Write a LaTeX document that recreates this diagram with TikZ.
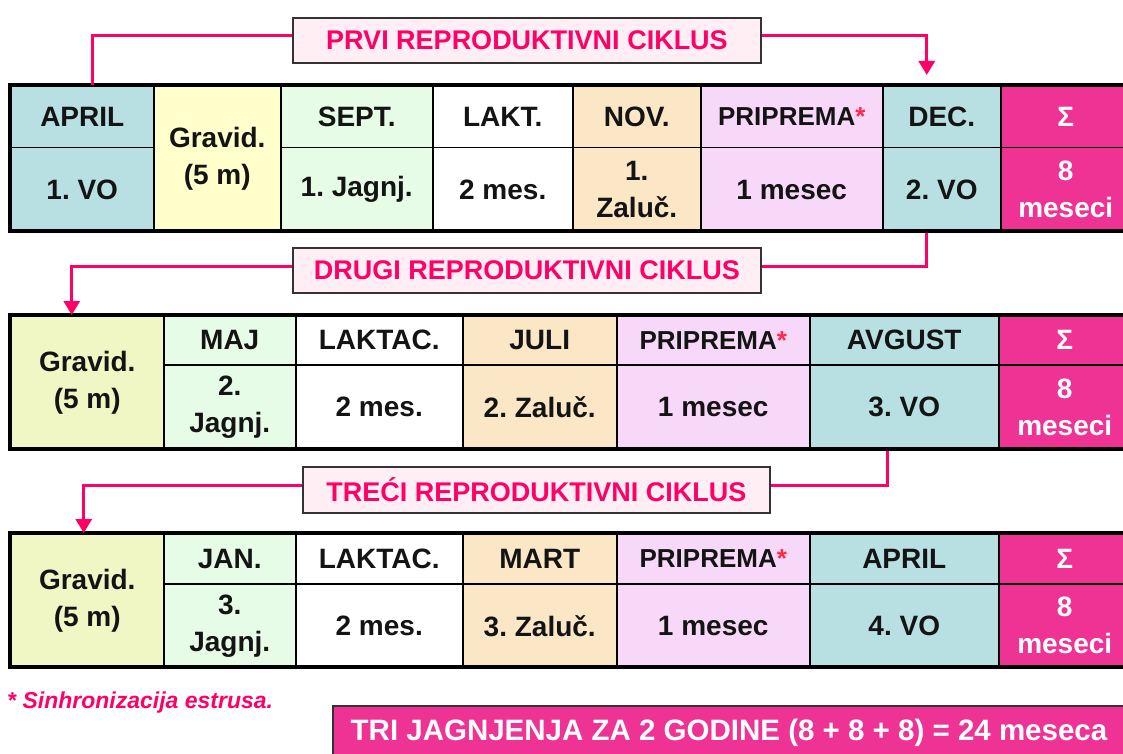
\documentclass[tikz,border=0pt]{standalone}
\usepackage{fontspec}
\setmainfont{Liberation Sans}
\usetikzlibrary{arrows.meta}
\definecolor{cblue}{HTML}{B8DFE2}
\definecolor{cyel}{HTML}{FFFFCC}
\definecolor{cyelb}{HTML}{F0F6C4}
\definecolor{cgreen}{HTML}{E6FCE6}
\definecolor{cpeach}{HTML}{FBE6C6}
\definecolor{cpink}{HTML}{F8D8F8}
\definecolor{cmag}{HTML}{EE3394}
\definecolor{cline}{HTML}{FF0066}
\definecolor{cboxfill}{HTML}{FFEEF3}
\definecolor{ctxt}{HTML}{141414}
\definecolor{cstar}{HTML}{FF2A4A}
\newcommand\mycell[7]{%
  \pgfmathsetmacro\mycw{#4-#2}\pgfmathsetmacro\mych{#5-#3}%
  \node[cell, #6, minimum width=\mycw pt, minimum height=\mych pt, anchor=north west] (#1) at (#2,#3) {#7};}
\newcommand\prip{{\fontsize{26}{30}\selectfont PRIPREMA\textcolor{cstar}{*}}}
\tikzset{
  cell/.style={draw=black, line width=1.5pt, inner sep=0pt, align=center, text=ctxt,
    font=\fontsize{28}{37}\selectfont\bfseries\frenchspacing},
  sumcell/.style={fill=cmag, text=white},
  frame/.style={draw=black, line width=4pt},
  label/.style={draw=black!80, line width=2pt, fill=cboxfill, text=cline, inner sep=0pt,
    font=\fontsize{27}{30}\selectfont\bfseries, anchor=north west},
  conn/.style={draw=cline, line width=3pt},
  arr/.style={-{Triangle[width=16pt,length=14pt]}}
}
\begin{document}
\begin{tikzpicture}[x=1pt,y=-1pt]
\useasboundingbox (0,0) rectangle (1123,754);
% ---------- table 1 ----------
\mycell{t1a}{10}{85}{153}{147}{fill=cblue}{APRIL}
\mycell{t1ab}{10}{147}{153}{231}{fill=cblue}{1. VO}
\mycell{t1b}{153}{85}{280}{231}{fill=cyel}{Gravid.\\(5 m)}
\mycell{t1c}{280}{85}{432}{147}{fill=cgreen}{SEPT.}
\mycell{t1cb}{280}{147}{432}{231}{fill=cgreen}{1. Jagnj.}
\mycell{t1d}{432}{85}{572}{147}{fill=white}{LAKT.}
\mycell{t1db}{432}{147}{572}{231}{fill=white}{2 mes.}
\mycell{t1e}{572}{85}{700}{147}{fill=cpeach}{NOV.}
\mycell{t1eb}{572}{147}{700}{231}{fill=cpeach}{1.\\Zaluč.}
\mycell{t1f}{700}{85}{882}{147}{fill=cpink}{\prip}
\mycell{t1fb}{700}{147}{882}{231}{fill=cpink}{1 mesec}
\mycell{t1g}{882}{85}{1000}{147}{fill=cblue}{DEC.}
\mycell{t1gb}{882}{147}{1000}{231}{fill=cblue}{2. VO}
\mycell{t1h}{1000}{85}{1130}{147}{sumcell}{Σ}
\mycell{t1hb}{1000}{147}{1130}{231}{sumcell}{8\\meseci}
\draw[frame] (10,85) rectangle (1130,231);
% ---------- table 2 ----------
\mycell{t2a}{10}{315}{163}{449}{fill=cyelb}{Gravid.\\(5 m)}
\mycell{t2b}{163}{315}{295}{364}{fill=cgreen}{MAJ}
\mycell{t2bb}{163}{364}{295}{449}{fill=cgreen}{2.\\Jagnj.}
\mycell{t2c}{295}{315}{462}{364}{fill=white}{LAKTAC.}
\mycell{t2cb}{295}{364}{462}{449}{fill=white}{2 mes.}
\mycell{t2d}{462}{315}{616}{364}{fill=cpeach}{JULI}
\mycell{t2db}{462}{364}{616}{449}{fill=cpeach}{2. Zaluč.}
\mycell{t2e}{616}{315}{809}{364}{fill=cpink}{\prip}
\mycell{t2eb}{616}{364}{809}{449}{fill=cpink}{1 mesec}
\mycell{t2f}{809}{315}{998}{364}{fill=cblue}{AVGUST}
\mycell{t2fb}{809}{364}{998}{449}{fill=cblue}{3. VO}
\mycell{t2g}{998}{315}{1130}{364}{sumcell}{Σ}
\mycell{t2gb}{998}{364}{1130}{449}{sumcell}{8\\meseci}
\draw[frame] (10,315) rectangle (1130,449);
% ---------- table 3 ----------
\mycell{t3a}{10}{533}{163}{667}{fill=cyelb}{Gravid.\\(5 m)}
\mycell{t3b}{163}{533}{295}{583}{fill=cgreen}{JAN.}
\mycell{t3bb}{163}{583}{295}{667}{fill=cgreen}{3.\\Jagnj.}
\mycell{t3c}{295}{533}{462}{583}{fill=white}{LAKTAC.}
\mycell{t3cb}{295}{583}{462}{667}{fill=white}{2 mes.}
\mycell{t3d}{462}{533}{616}{583}{fill=cpeach}{MART}
\mycell{t3db}{462}{583}{616}{667}{fill=cpeach}{3. Zaluč.}
\mycell{t3e}{616}{533}{809}{583}{fill=cpink}{\prip}
\mycell{t3eb}{616}{583}{809}{667}{fill=cpink}{1 mesec}
\mycell{t3f}{809}{533}{998}{583}{fill=cblue}{APRIL}
\mycell{t3fb}{809}{583}{998}{667}{fill=cblue}{4. VO}
\mycell{t3g}{998}{533}{1130}{583}{sumcell}{Σ}
\mycell{t3gb}{998}{583}{1130}{667}{sumcell}{8\\meseci}
\draw[frame] (10,533) rectangle (1130,667);
% ---------- cycle labels ----------
\node[label, minimum width=468pt, minimum height=45pt] (p1) at (292,17) {PRVI REPRODUKTIVNI CIKLUS};
\node[label, minimum width=468pt, minimum height=45pt] (p2) at (292,247) {DRUGI REPRODUKTIVNI CIKLUS};
\node[label, minimum width=467pt, minimum height=46pt] (p3) at (302,466) {TREĆI REPRODUKTIVNI CIKLUS};
% ---------- connectors ----------
\draw[conn] ([yshift=4.5pt]p1.west) -| ([xshift=10.5pt]t1a.north);
\draw[conn,arr] ([yshift=4.5pt]p1.east) -| ([xshift=-15pt,yshift=10pt]t1g.north);
\draw[conn] ([xshift=-15pt]t1gb.south) |- ([yshift=4.5pt]p2.east);
\draw[conn,arr] ([yshift=4.5pt]p2.west) -| ([xshift=-15.5pt]t2a.north);
\draw[conn] ([xshift=-16.5pt]t2fb.south) |- ([yshift=5pt]p3.east);
\draw[conn,arr] ([yshift=5pt]p3.west) -| ([xshift=-3.5pt]t3a.north);
% ---------- footnote and total ----------
\node[anchor=west, text=cline, inner sep=0pt, font=\fontsize{23}{26}\selectfont\bfseries\itshape] (fn) at (7,703) {* Sinhronizacija estrusa.};
\node[draw=black!80, line width=2pt, fill=cmag, text=white, anchor=north west, inner sep=0pt,
  minimum width=800pt, minimum height=54pt, font=\fontsize{29.5}{32}\selectfont\bfseries] (tot) at (332,705)
  {\hspace*{-8pt}TRI JAGNJENJA ZA 2 GODINE (8 + 8 + 8) = 24 meseca};
\end{tikzpicture}
\end{document}
